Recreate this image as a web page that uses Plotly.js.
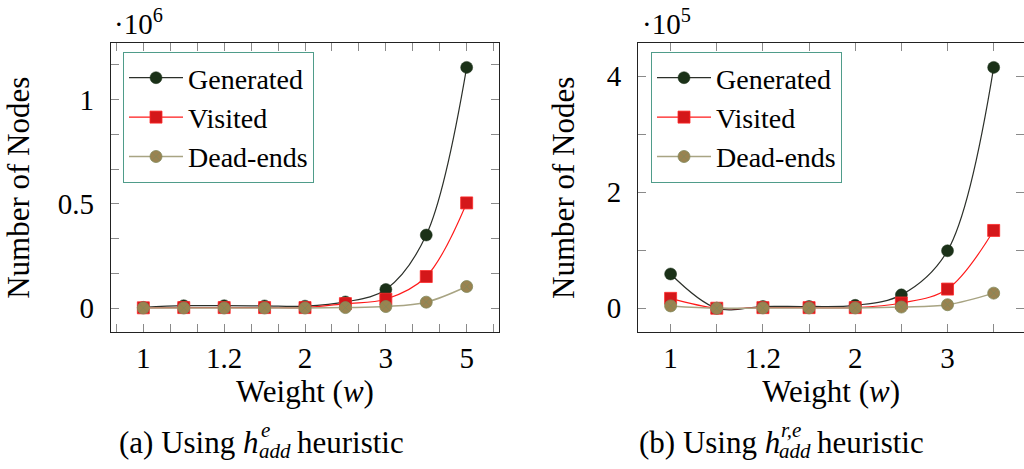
<!DOCTYPE html>
<html>
<head>
<meta charset="utf-8">
<script src="https://cdn.plot.ly/plotly-3.0.1.min.js"></script>
<style>
#chart text, #chart tspan { font-family: 'Liberation Serif', serif !important; }
</style>
</head>
<body style="margin:0;overflow:hidden;background:#fff">
<div id="chart" style="width:1024px;height:469px"></div>
<script>
// ---- data ----
const stepsA = [0, 1, 2, 3, 4, 5, 6, 7, 8];
const weightLabelsA = ['1', '1.2', '2', '3', '5'];
const generatedA = [4000, 12000, 12000, 11000, 10000, 30000, 90000, 351000, 1155000];
const visitedA   = [2000, 3000, 3000, 3000, 3000, 22000, 43000, 152000, 505000];
const deadEndsA  = [1000, 1000, 1000, 1000, 1000, 3000, 8000, 29000, 104000];

const stepsB = [0, 1, 2, 3, 4, 5, 6, 7];
const weightLabelsB = ['1', '1.2', '2', '3'];
const generatedB = [59000, 0, 3000, 3000, 5000, 23000, 99000, 415000];
const visitedB   = [17000, 0, 1000, 1000, 1000, 9000, 33000, 134000];
const deadEndsB  = [4000, 0, 500, 500, 500, 2000, 6000, 26000];

const seriesNames = ['Generated', 'Visited', 'Dead-ends'];

// ---- styling ----
const W = 1024, H = 469;
const F = 'Liberation Serif';
const styles = [
  {line: {color: '#2c302a', width: 1.2, shape: 'spline', smoothing: 1},
   marker: {symbol: 'circle', size: 12, color: '#1b3118', line: {color: '#1b3118', width: 0.5}}},
  {line: {color: '#ff1a1a', width: 1.2, shape: 'spline', smoothing: 1},
   marker: {symbol: 'square', size: 12, color: '#d4171a', line: {color: '#ff2a2a', width: 0.8}}},
  {line: {color: '#a8a483', width: 1.5, shape: 'spline', smoothing: 1},
   marker: {symbol: 'circle-x', size: 12, color: '#9a8350', line: {color: '#80895c', width: 0.8}}}
];

function mk(x, ys, xa, ya, leg) {
  return ys.map((y, i) => ({
    type: 'scatter', mode: 'lines+markers', x: x, y: y,
    name: seriesNames[i], xaxis: xa, yaxis: ya, legend: leg,
    line: styles[i].line, marker: styles[i].marker, cliponaxis: false
  }));
}

const traces = [
  ...mk(stepsA, [generatedA, visitedA, deadEndsA], 'x', 'y', 'legend'),
  ...mk(stepsB, [generatedB, visitedB, deadEndsB], 'x2', 'y2', 'legend2')
];

// ticks: major labelled ticks plus unlabeled minor ticks
const xtA = (function () {
  const vals = [], text = [];
  for (let k = -1; k <= 13; k++) {
    vals.push(k * 2 / 3);
    text.push(k >= 0 && k % 3 === 0 ? weightLabelsA[k / 3] : ' ');
  }
  return {vals, text};
})();
const xtB = (function () {
  const vals = [], text = [];
  for (let k = 0; k <= 7; k++) {
    vals.push(k);
    text.push(k % 2 === 0 ? weightLabelsB[k / 2] : ' ');
  }
  return {vals, text};
})();
const ytA = (function () {
  const vals = [], text = [];
  const lab = {0: '0', 3: '0.5', 6: '1'};
  for (let k = 0; k <= 7; k++) {
    vals.push(k * 1e6 / 6);
    text.push(lab[k] !== undefined ? lab[k] : ' ');
  }
  return {vals, text};
})();
const ytB = (function () {
  const vals = [], text = [];
  for (let k = 0; k <= 4; k++) {
    vals.push(k * 1e5);
    text.push(k % 2 === 0 ? String(k) : ' ');
  }
  return {vals, text};
})();

function axis(extra) {
  return Object.assign({
    showgrid: false, zeroline: false, showline: true, linecolor: '#222', linewidth: 1.3,
    mirror: 'allticks', ticks: 'inside', ticklen: 8, tickwidth: 1, tickcolor: '#8a8a8a',
    tickfont: {family: F, size: 29, color: '#000'}, tickmode: 'array', automargin: false,
    fixedrange: true
  }, extra);
}
function ttl(text, standoff) {
  return {text: text, font: {family: F, size: 31, color: '#000'}, standoff: standoff};
}

const yDom = [(H - 332.3) / H, (H - 43.3) / H];

function legendAt(x) {
  return {
    x: x / W, y: (H - 52) / H, xanchor: 'left', yanchor: 'top',
    bgcolor: '#fff', bordercolor: '#4f9c8a', borderwidth: 1,
    font: {family: F, size: 28, color: '#000'}, itemclick: false, itemdoubleclick: false,
    itemwidth: 54
  };
}

function ann(x, y, text, size, xanchor) {
  return {xref: 'paper', yref: 'paper', x: x / W, y: (H - y) / H, xanchor: xanchor || 'left',
    yanchor: 'middle', text: text, showarrow: false, font: {family: F, size: size, color: '#000'}};
}
function cap(x0, label, sup) {
  return [
    ann(x0, 442, label + ' Using <i>h</i>', 31),
    ann(x0 + 142, 430, '<i>' + sup + '</i>', 21),
    ann(x0 + 140, 451, '<i>add</i>', 21),
    ann(x0 + 178, 442, 'heuristic', 31)
  ];
}

const layout = {
  width: W, height: H,
  margin: {l: 0, r: 0, t: 0, b: 0},
  paper_bgcolor: '#fff', plot_bgcolor: '#fff',
  xaxis: axis({
    domain: [111 / W, 499 / W], range: [-0.8, 8.8],
    tickvals: xtA.vals, ticktext: xtA.text, ticklabelstandoff: 0,
    title: ttl('Weight (<i>w</i>)', 2)
  }),
  yaxis: axis({
    domain: yDom, range: [-115500, 1270500],
    tickvals: ytA.vals, ticktext: ytA.text, ticklabelstandoff: 10,
    title: ttl('Number of Nodes', 18)
  }),
  xaxis2: axis({
    domain: [638.3 / W, 1], range: [-0.7, 7.657], anchor: 'y2',
    tickvals: xtB.vals, ticktext: xtB.text, ticklabelstandoff: 0,
    title: ttl('Weight (<i>w</i>)', 2)
  }),
  yaxis2: axis({
    domain: yDom, range: [-41500, 456500], anchor: 'x2',
    tickvals: ytB.vals, ticktext: ytB.text, ticklabelstandoff: 10,
    title: ttl('Number of Nodes', 22)
  }),
  legend: legendAt(123),
  legend2: legendAt(651),
  showlegend: true,
  annotations: [
    ann(112, 22, '·10<sup>6</sup>', 29),
    ann(640, 22, '·10<sup>5</sup>', 29),
    ...cap(117, '(a)', 'e'),
    ...cap(637, '(b)', 'r,e')
  ]
};

Plotly.newPlot('chart', traces, layout, {displayModeBar: false});
</script>
</body>
</html>
